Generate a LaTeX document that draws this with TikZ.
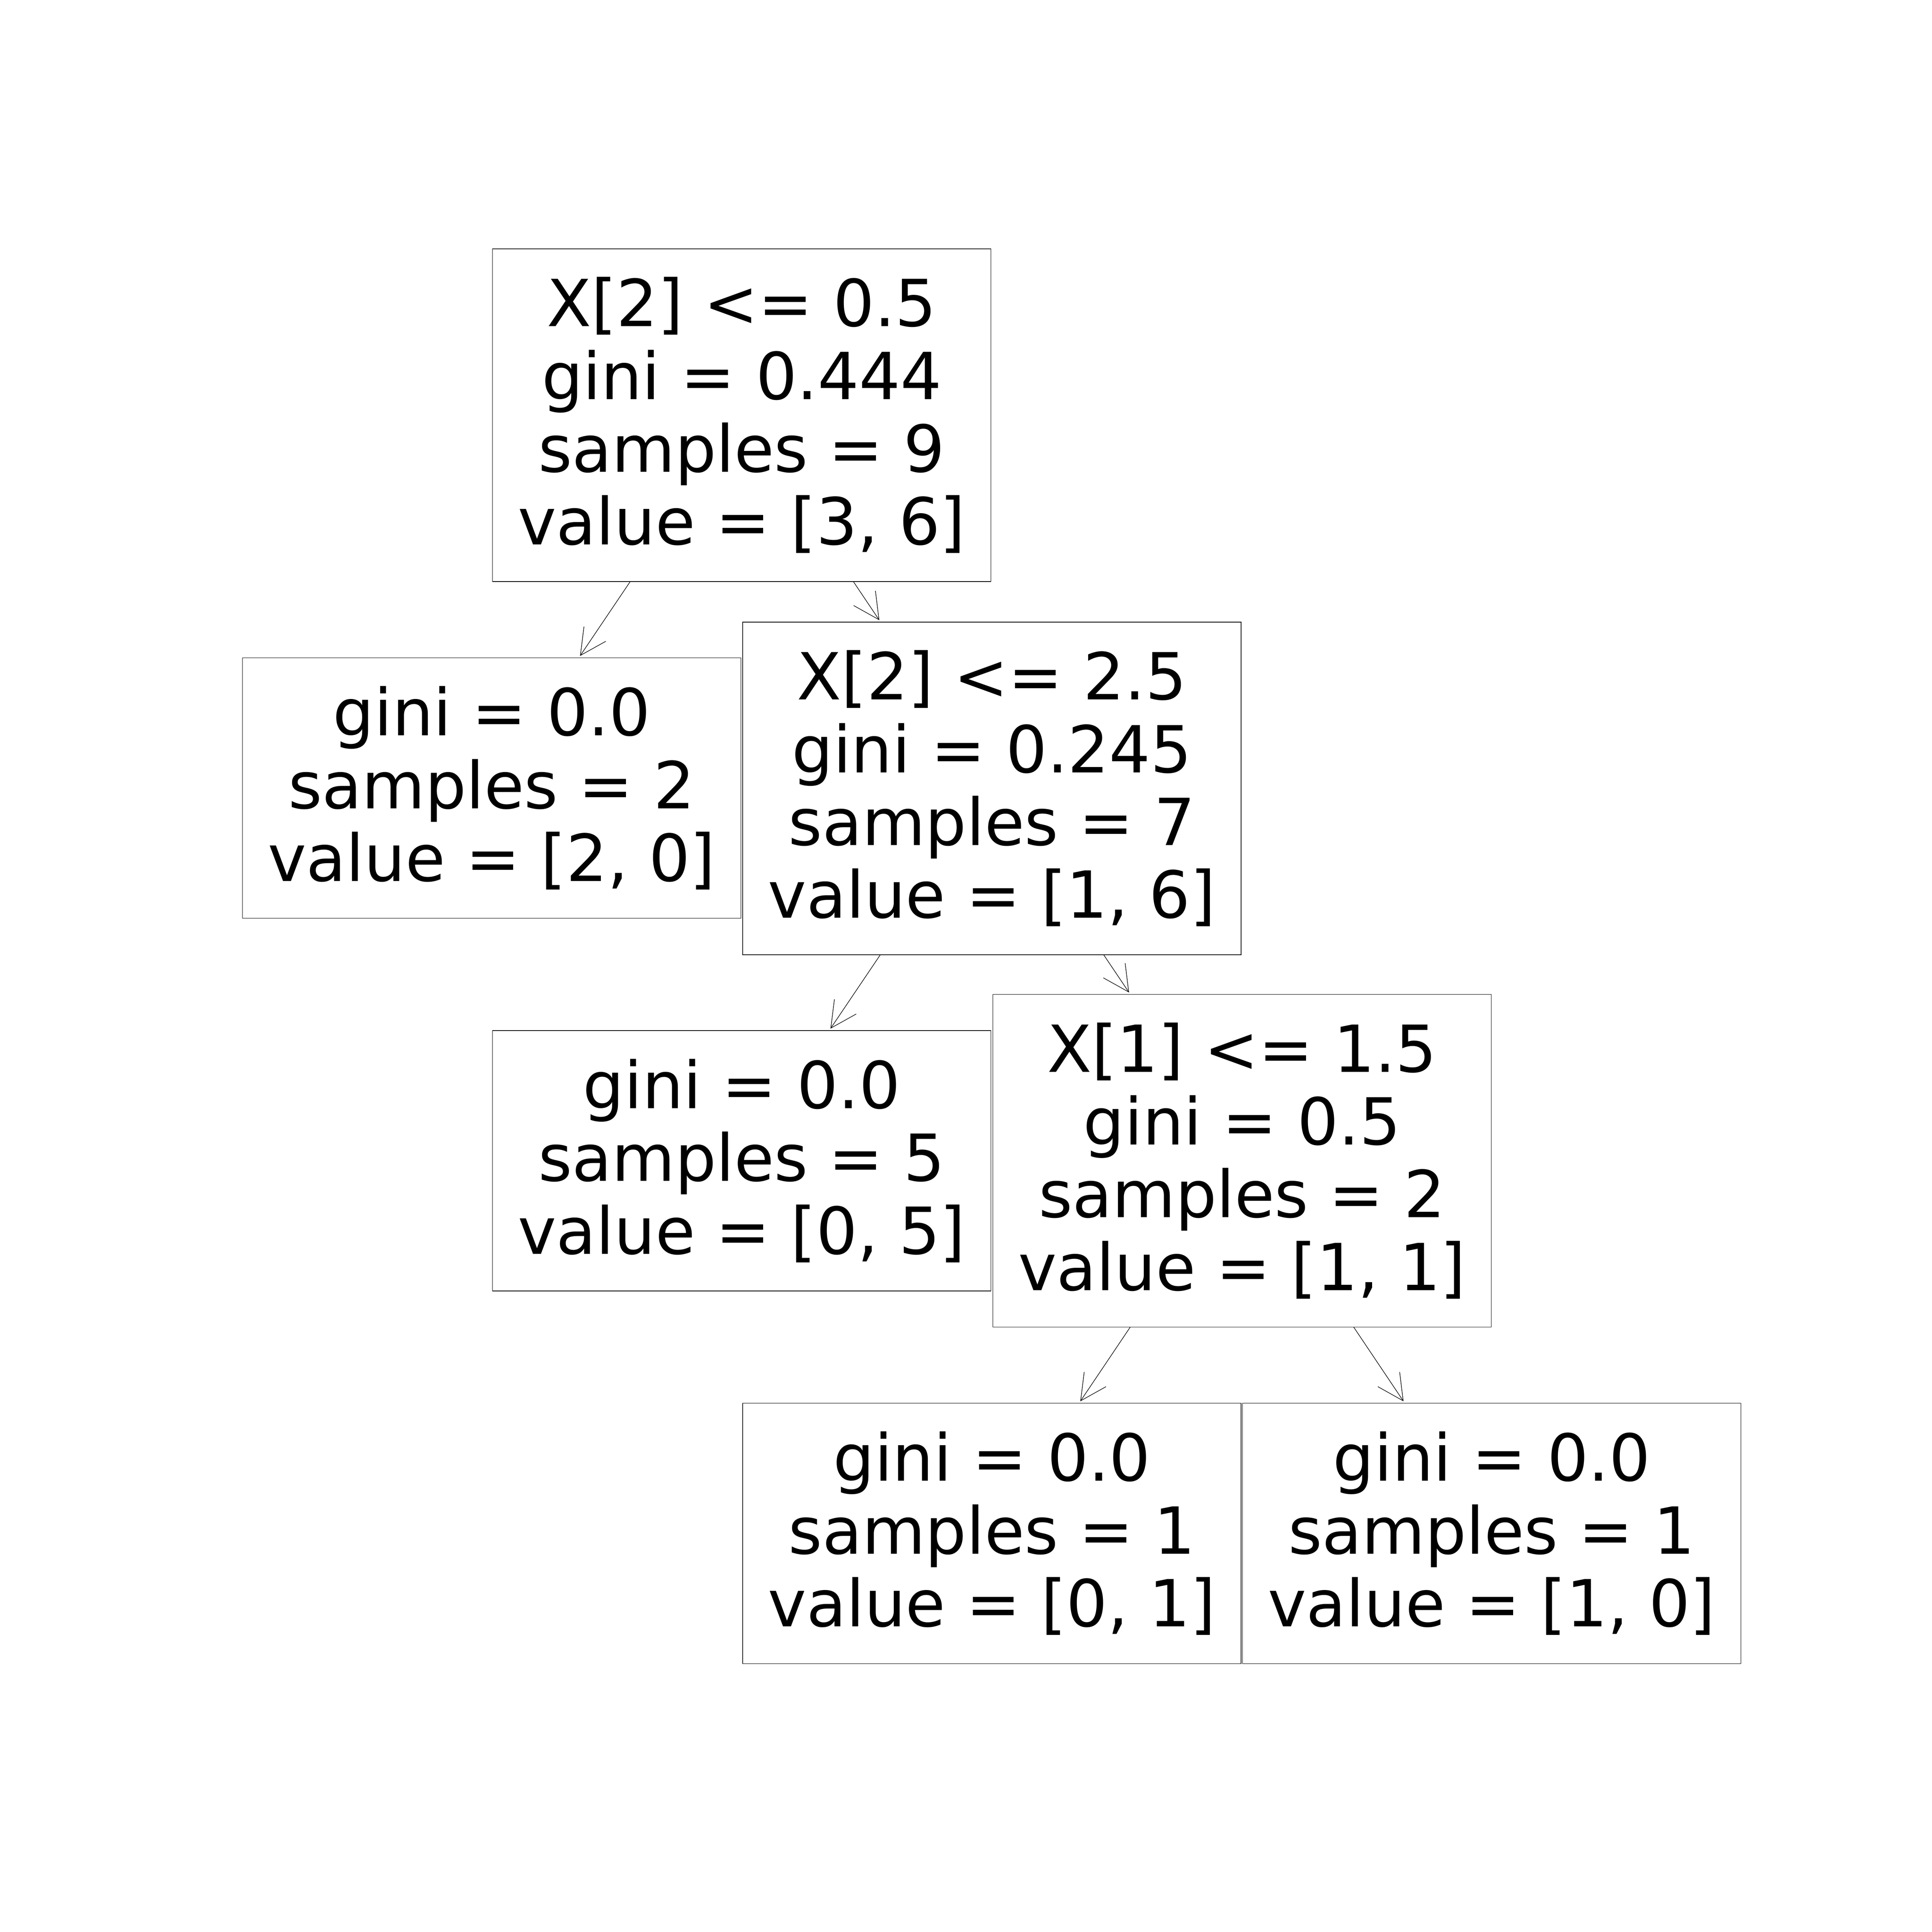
\documentclass[tikz,border=0pt]{standalone}
\usepackage{fontspec}
\setmainfont{DejaVu Sans}
\usetikzlibrary{arrows.meta}

\begin{document}
\begin{tikzpicture}[
        kutu/.style={draw, line width=0.5pt, minimum width=12.9cm, inner sep=0pt, outer sep=0pt,
            align=center, font=\fontsize{47.8}{53.6}\selectfont},
        dal/.style={kutu, minimum height=8.61cm},
        yaprak/.style={kutu, minimum height=6.74cm},
        ok/.style={-{Straight Barb[length=0.67cm, width=0.68cm]}, line width=0.4pt, shorten >=0.06cm}
    ]
        % Sınırları sabitle
        \useasboundingbox (0,0) rectangle (50,-50);

        % Düğümleri çiz
        \node[dal] (kok) at (19.195,-10.745) {X[2] <= 0.5\\gini = 0.444\\samples = 9\\value = [3, 6]};
        \node[yaprak] (yaprak1) at (12.725,-20.395) {gini = 0.0\\samples = 2\\value = [2, 0]};
        \node[dal] (dal2) at (25.67,-20.405) {X[2] <= 2.5\\gini = 0.245\\samples = 7\\value = [1, 6]};
        \node[yaprak] (yaprak2) at (19.195,-30.04) {gini = 0.0\\samples = 5\\value = [0, 5]};
        \node[dal] (dal3) at (32.145,-30.04) {X[1] <= 1.5\\gini = 0.5\\samples = 2\\value = [1, 1]};
        \node[yaprak] (yaprak3) at (25.67,-39.685) {gini = 0.0\\samples = 1\\value = [0, 1]};
        \node[yaprak] (yaprak4) at (38.605,-39.685) {gini = 0.0\\samples = 1\\value = [1, 0]};

        % Okları çiz
        \draw[ok] (kok) -- (yaprak1);
        \draw[ok] (kok) -- (dal2);
        \draw[ok] (dal2) -- (yaprak2);
        \draw[ok] (dal2) -- (dal3);
        \draw[ok] (dal3) -- (yaprak3);
        \draw[ok] (dal3) -- (yaprak4);
    \end{tikzpicture}
\end{document}
